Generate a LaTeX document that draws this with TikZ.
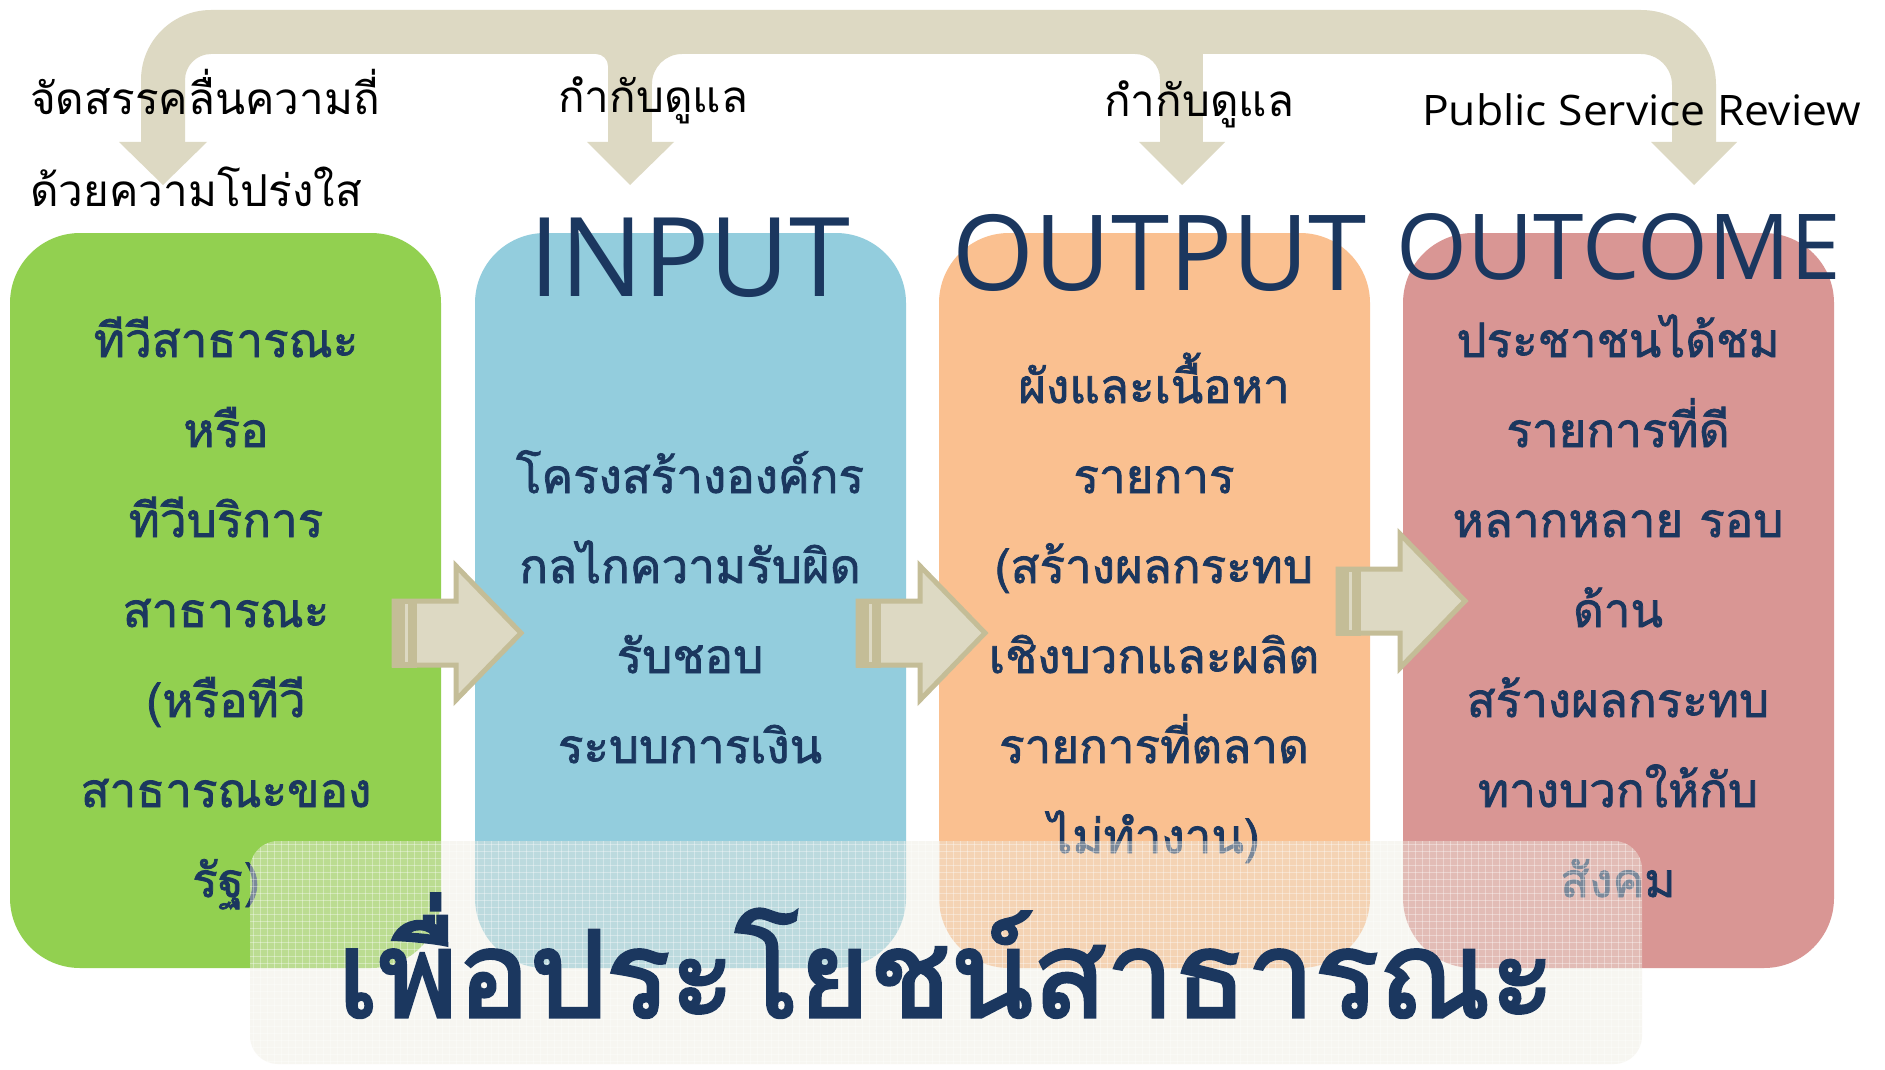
\documentclass[tikz,border=0pt]{standalone}
\usepackage{fontspec}
\newfontfamily\thai[Script=Thai]{Loma}
\newfontfamily\thaib[Script=Thai,FakeBold=1.6]{Loma}
\newfontfamily\thaibb[Script=Thai,FakeBold=2.6]{Loma}
\newfontfamily\lat{Open Sans}
\definecolor{navy}{HTML}{1B375F}
\definecolor{cgreen}{HTML}{92D050}
\definecolor{cblue}{HTML}{93CDDD}
\definecolor{corange}{HTML}{FAC090}
\definecolor{cpink}{HTML}{D99694}
\definecolor{tanl}{HTML}{DDD9C3}
\definecolor{tand}{HTML}{C4BD97}
\definecolor{bann}{HTML}{EEECE1}
\tikzset{
  stagebox/.style={rounded corners=70pt, minimum width=431pt, minimum height=735pt, inner sep=0pt, draw=none},
  boxtxt/.style={font=\thaib\fontsize{47.5}{50}\selectfont, text=navy, anchor=base, inner sep=0pt},
  ttl/.style={text=navy, anchor=base, inner sep=0pt},
  toplbl/.style={font=\thai\fontsize{44}{48}\selectfont, text=black, anchor=base west, inner sep=0pt},
  striparrow/.pic={
    \path[fill=tanl, draw=tand, line width=5pt, line join=miter] (2,-32) -- (64,-32) -- (64,-67) -- (129,0) -- (64,67) -- (64,32) -- (2,32) -- cycle;
    \fill[tand] (0,-34.5) rectangle (25,34.5);
    \fill[tanl] (13,-29) rectangle (16,29);
  }
}
\begin{document}
\begin{tikzpicture}[x=1pt,y=-1pt]
\useasboundingbox (0,0) rectangle (1885,1070);
\fill[white] (0,0) rectangle (1885,1070);

% top bent arrow
\fill[tanl] (141,142) -- (141,80) arc[start angle=180,end angle=270,radius=70]
  -- (1641,10) arc[start angle=270,end angle=360,radius=75]
  -- (1716,142) -- (1672,142) -- (1672,85) arc[start angle=0,end angle=-90,radius=31]
  -- (211,54) arc[start angle=270,end angle=180,radius=26] -- (185,142) -- cycle;
\fill[tanl] (119,142) -- (207,142) -- (163,185) -- cycle;
\fill[tanl] (1651,142) -- (1737,142) -- (1694,185) -- cycle;
% branch 2
\fill[tanl] (608,50) rectangle (652,142);
\fill[tanl] (652,54) -- (682,54) arc[start angle=270,end angle=180,radius=30] -- cycle;
\fill[tanl] (608,54) -- (596,54) arc[start angle=270,end angle=360,radius=12] -- cycle;
\fill[tanl] (587,142) -- (674,142) -- (630,185) -- cycle;
% branch 3
\fill[tanl] (1160,50) rectangle (1203,142);
\fill[tanl] (1160,54) -- (1135,54) arc[start angle=270,end angle=360,radius=25] -- cycle;
\fill[tanl] (1139,142) -- (1225,142) -- (1182,185) -- cycle;

% top labels
\node[toplbl] (l1) at (30,115) {จัดสรรคลื่นความถี่};
\node[toplbl] (l2) at (30,206) {ด้วยความโปร่งใส};
\node[toplbl] (l3) at (558,113) {กำกับดูแล};
\node[toplbl] (l4) at (1104,117) {กำกับดูแล};
\node[toplbl, font=\lat\fontsize{42}{46}\selectfont] (l5) at (1422,126) {\scalebox{1.058}[1]{Public Service Review}};

% boxes
\node[stagebox, fill=cgreen]  (g) at (225.5,600.5) {};
\node[stagebox, fill=cblue]   (b) at (690.5,600.5) {};
\node[stagebox, fill=corange] (o) at (1154.5,600.5) {};
\node[stagebox, fill=cpink]   (p) at (1618.5,600.5) {};

% titles
\node[ttl, font=\lat\fontsize{110}{120}\selectfont] (tin) at (690,296) {INPUT};
\node[ttl, font=\lat\fontsize{105}{115}\selectfont] (tout) at (1160,290) {OUTPUT};
\node[ttl, font=\lat\fontsize{91}{100}\selectfont] (toc) at (1619,279) {OUTCOME};

% box texts
\foreach \t [count=\i] in {ทีวีสาธารณะ,หรือ,ทีวีบริการ,สาธารณะ,{(หรือทีวี},สาธารณะของ,{รัฐ)}}
  \node[boxtxt] (g\i) at (226,267+90*\i) {\t};
\foreach \t [count=\i] in {โครงสร้างองค์กร,กลไกความรับผิด,รับชอบ,ระบบการเงิน}
  \node[boxtxt] (b\i) at (690,403+90*\i) {\t};
\foreach \t [count=\i] in {ผังและเนื้อหา,รายการ,{(สร้างผลกระทบ},เชิงบวกและผลิต,รายการที่ตลาด,{ไม่ทำงาน)}}
  \node[boxtxt] (o\i) at (1154,313+90*\i) {\t};
\foreach \t [count=\i] in {ประชาชนได้ชม,รายการที่ดี,หลากหลาย รอบ,ด้าน,สร้างผลกระทบ,ทางบวกให้กับ,สังคม}
  \node[boxtxt] (p\i) at (1618,267+90*\i) {\t};

% side arrows
\pic (a1) at (392,633) {striparrow};
\pic (a2) at (856,633) {striparrow};
\pic (a3) at (1336,601) {striparrow};

% banner
\node[fill=bann, fill opacity=0.45, rounded corners=28pt, minimum width=1392pt, minimum height=223pt, inner sep=0pt] (ban) at (946,952.5) {};
\begin{scope}
  \clip[rounded corners=28pt] (250,841) rectangle (1642,1064);
  \foreach \x in {253,260,...,1642} \draw[white, opacity=0.35, line width=0.8pt] (\x,841) -- (\x,1064);
  \foreach \y in {844,851,...,1064} \draw[white, opacity=0.35, line width=0.8pt] (250,\y) -- (1642,\y);
\end{scope}
\node[font=\thaibb\fontsize{120}{130}\selectfont, text=navy, anchor=base, inner sep=0pt] (bt) at (946,1017) {เพื่อประโยชน์สาธารณะ};
\end{tikzpicture}
\end{document}
